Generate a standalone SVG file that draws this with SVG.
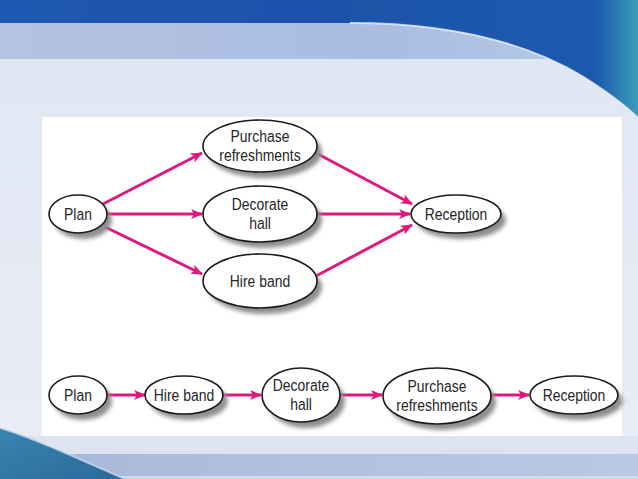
<svg xmlns="http://www.w3.org/2000/svg" width="638" height="479" viewBox="0 0 638 479">
<defs>
<linearGradient id="gTop" x1="0" y1="0" x2="1" y2="0">
<stop offset="0" stop-color="#1f58b0"/><stop offset="0.5" stop-color="#1c52ab"/><stop offset="1" stop-color="#1a4c9e"/>
</linearGradient>
<linearGradient id="gBand" x1="0" y1="0" x2="1" y2="0">
<stop offset="0" stop-color="#b3c3e2"/><stop offset="0.6" stop-color="#aabde0"/><stop offset="1" stop-color="#b8cbe8"/>
</linearGradient>
<linearGradient id="gLight" x1="0" y1="0" x2="0" y2="1">
<stop offset="0" stop-color="#dfe6f3"/><stop offset="1" stop-color="#e9edf6"/>
</linearGradient>
<linearGradient id="gCurve" x1="0" y1="0" x2="1" y2="0">
<stop offset="0" stop-color="#1d55a8"/><stop offset="0.85" stop-color="#1c59ae"/><stop offset="1" stop-color="#3a9cb8"/>
</linearGradient>
<linearGradient id="gBot" x1="0" y1="0" x2="1" y2="0">
<stop offset="0" stop-color="#a6b7da"/><stop offset="0.5" stop-color="#b2c1e0"/><stop offset="1" stop-color="#b9c8e4"/>
</linearGradient>
<linearGradient id="gWedge" x1="0" y1="0" x2="1" y2="1">
<stop offset="0" stop-color="#3a84b0"/><stop offset="1" stop-color="#2a6a9c"/>
</linearGradient>
<filter id="blur" x="-20%" y="-20%" width="140%" height="140%"><feGaussianBlur stdDeviation="2"/></filter>
<marker id="ah" viewBox="0 0 12 10" refX="11" refY="5" markerWidth="12" markerHeight="10" markerUnits="userSpaceOnUse" orient="auto">
<path d="M0,0 L12,5 L0,10 L3,5 Z" fill="#e0177e"/>
</marker>
<style>
.node ellipse.b{fill:#fff;stroke:#1a1a1a;stroke-width:1.6}
.node ellipse.s{fill:#8e8e8e;filter:url(#blur)}
.node text{font-family:"Liberation Sans",Arial,sans-serif;font-size:17px;fill:#262626;text-anchor:middle}
#connectors line{stroke:#e0177e;stroke-width:3;marker-end:url(#ah)}
</style>
</defs>
<!-- background -->
<rect x="0" y="0" width="638" height="479" fill="url(#gLight)"/>
<rect x="0" y="0" width="638" height="23" fill="url(#gTop)"/>
<rect x="0" y="23" width="638" height="36" fill="url(#gBand)"/>
<path d="M350,23 C450,23 525,42 582,76 C606,91 625,105 638,118 L638,0 L350,0 Z" fill="url(#gCurve)"/>
<path d="M350,23 C450,23 525,42 582,76 C606,91 625,105 638,118" fill="none" stroke="#e8eef8" stroke-width="2" opacity="0.8"/>
<rect x="0" y="436" width="638" height="18" fill="#dce4f1"/>
<rect x="0" y="454" width="638" height="22" fill="url(#gBot)"/>
<rect x="0" y="476" width="638" height="3" fill="#cfdbe9"/>
<path d="M0,428 C40,440 80,460 125,479 L0,479 Z" fill="url(#gWedge)"/>
<path d="M0,428 C40,440 80,460 125,479" fill="none" stroke="#cfe0ee" stroke-width="2" opacity="0.7"/>
<!-- panel -->
<rect x="42" y="117" width="580" height="319" fill="#ffffff"/>

<g id="connectors">
<line x1="103" y1="204" x2="202" y2="153"/>
<line x1="107" y1="214" x2="202" y2="214"/>
<line x1="103" y1="226" x2="202" y2="274"/>
<line x1="316" y1="153" x2="412" y2="204"/>
<line x1="317" y1="214" x2="410" y2="214"/>
<line x1="316" y1="276" x2="412" y2="225"/>
<line x1="107" y1="395" x2="145" y2="395"/>
<line x1="223" y1="395" x2="261" y2="395"/>
<line x1="340" y1="395" x2="382" y2="395"/>
<line x1="491" y1="395" x2="529" y2="395"/>
</g>

<g id="plan1" class="node">
<ellipse class="s" cx="83" cy="220" rx="29" ry="19"/>
<ellipse class="b" cx="78" cy="214" rx="29" ry="19"/>
<text transform="translate(78,220) scale(0.82,1)">Plan</text>
</g>
<g id="purchase1" class="node">
<ellipse class="s" cx="265" cy="152" rx="57" ry="26"/>
<ellipse class="b" cx="260" cy="146" rx="57" ry="26"/>
<text transform="translate(260,142) scale(0.82,1)">Purchase</text>
<text transform="translate(260,161) scale(0.82,1)">refreshments</text>
</g>
<g id="decorate1" class="node">
<ellipse class="s" cx="265" cy="220" rx="57" ry="28"/>
<ellipse class="b" cx="260" cy="214" rx="57" ry="28"/>
<text transform="translate(260,210) scale(0.82,1)">Decorate</text>
<text transform="translate(260,229) scale(0.82,1)">hall</text>
</g>
<g id="hire1" class="node">
<ellipse class="s" cx="265" cy="287" rx="57" ry="27"/>
<ellipse class="b" cx="260" cy="281" rx="57" ry="27"/>
<text transform="translate(260,287) scale(0.82,1)">Hire band</text>
</g>
<g id="reception1" class="node">
<ellipse class="s" cx="461" cy="220" rx="45" ry="19"/>
<ellipse class="b" cx="456" cy="214" rx="45" ry="19"/>
<text transform="translate(456,220) scale(0.82,1)">Reception</text>
</g>

<g id="plan2" class="node">
<ellipse class="s" cx="83" cy="401" rx="29" ry="19"/>
<ellipse class="b" cx="78" cy="395" rx="29" ry="19"/>
<text transform="translate(78,401) scale(0.82,1)">Plan</text>
</g>
<g id="hire2" class="node">
<ellipse class="s" cx="189" cy="401" rx="39" ry="19"/>
<ellipse class="b" cx="184" cy="395" rx="39" ry="19"/>
<text transform="translate(184,401) scale(0.82,1)">Hire band</text>
</g>
<g id="decorate2" class="node">
<ellipse class="s" cx="306" cy="401" rx="39" ry="27"/>
<ellipse class="b" cx="301" cy="395" rx="39" ry="27"/>
<text transform="translate(301,391) scale(0.82,1)">Decorate</text>
<text transform="translate(301,410) scale(0.82,1)">hall</text>
</g>
<g id="purchase2" class="node">
<ellipse class="s" cx="442" cy="402" rx="54" ry="28"/>
<ellipse class="b" cx="437" cy="396" rx="54" ry="28"/>
<text transform="translate(437,392) scale(0.82,1)">Purchase</text>
<text transform="translate(437,411) scale(0.82,1)">refreshments</text>
</g>
<g id="reception2" class="node">
<ellipse class="s" cx="579" cy="401" rx="44" ry="19"/>
<ellipse class="b" cx="574" cy="395" rx="44" ry="19"/>
<text transform="translate(574,401) scale(0.82,1)">Reception</text>
</g>
</svg>
